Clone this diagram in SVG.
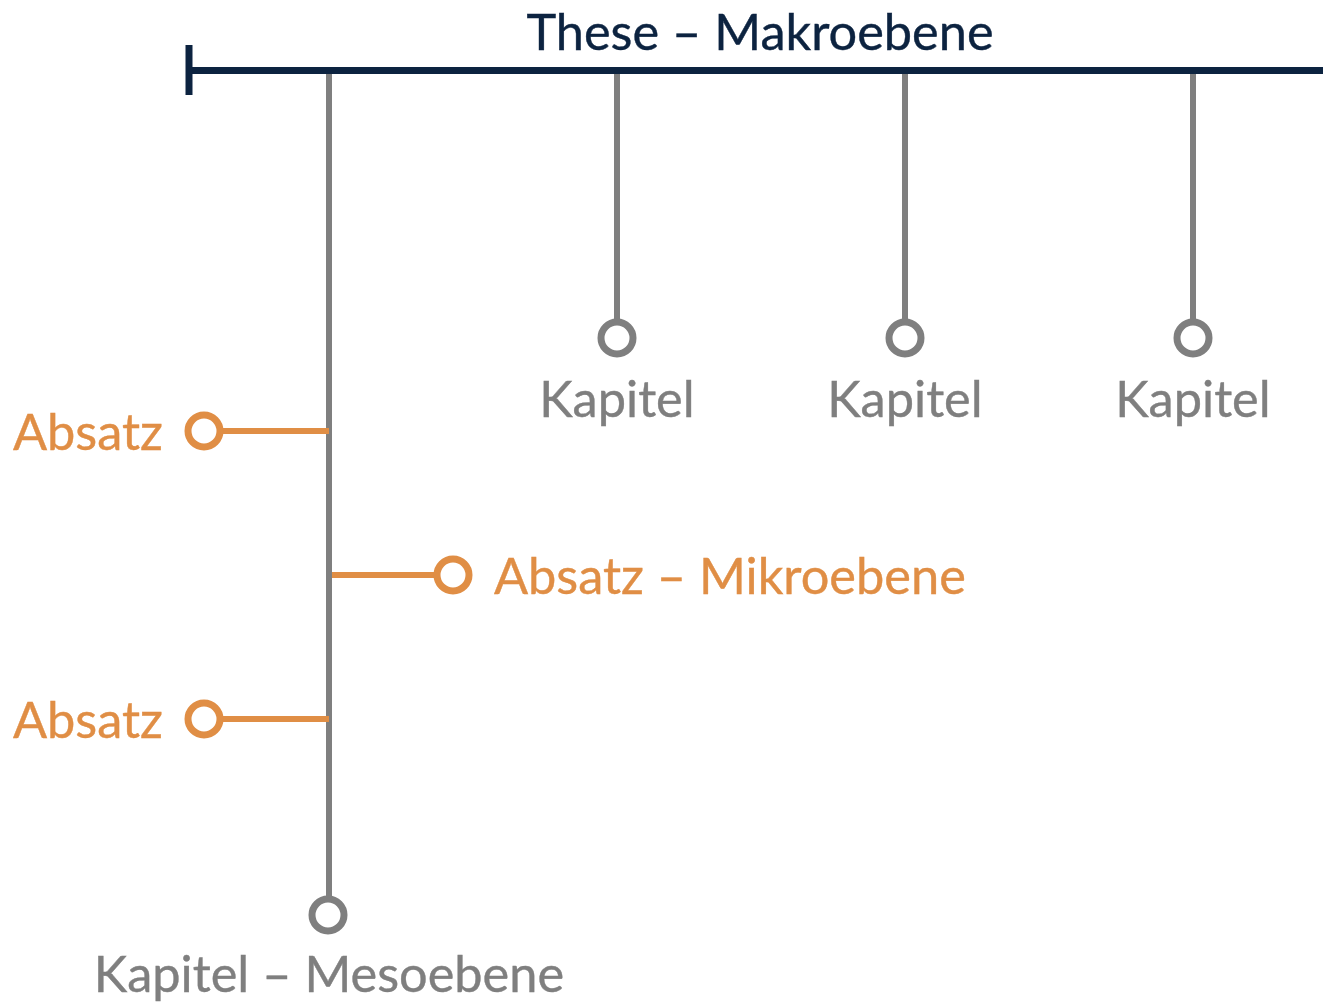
<svg xmlns="http://www.w3.org/2000/svg" width="1323" height="1003" viewBox="0 0 1323 1003">
<style>
.t{font-family:Lato,"Noto Sans",sans-serif;font-size:50.5px}
.navy{fill:#0c2340;stroke:#0c2340;stroke-width:0.4}
.gray{fill:#7f7f7f;stroke:#7f7f7f;stroke-width:0.4}
.orange{fill:#e08e45;stroke:#e08e45;stroke-width:0.4}
.gl{stroke:#7f7f7f;stroke-width:6;fill:none}
.ol{stroke:#e08e45;stroke-width:6;fill:none}
.nl{stroke:#0c2340;stroke-width:7;fill:none}
.gc{stroke:#7f7f7f;stroke-width:7;fill:#fff}
.oc{stroke:#e08e45;stroke-width:7;fill:#fff}
</style>
<g id="connectors">
<line class="gl" x1="329" y1="72" x2="329" y2="898"/>
<line class="gl" x1="617" y1="72" x2="617" y2="322"/>
<line class="gl" x1="905" y1="72" x2="905" y2="322"/>
<line class="gl" x1="1193" y1="72" x2="1193" y2="322"/>
<line class="ol" x1="221" y1="431" x2="329" y2="431"/>
<line class="ol" x1="332" y1="575" x2="436" y2="575"/>
<line class="ol" x1="221" y1="719" x2="329" y2="719"/>
<line class="nl" x1="186" y1="70.5" x2="1323" y2="70.5"/>
<line class="nl" x1="189" y1="45" x2="189" y2="95"/>
</g>
<g id="these"><text class="t navy" x="760" y="50" text-anchor="middle">These – Makroebene</text></g>
<g id="kapitel1"><circle class="gc" cx="617" cy="338" r="16"/><text class="t gray" x="617" y="417" text-anchor="middle">Kapitel</text></g>
<g id="kapitel2"><circle class="gc" cx="905" cy="338" r="16"/><text class="t gray" x="905" y="417" text-anchor="middle">Kapitel</text></g>
<g id="kapitel3"><circle class="gc" cx="1193" cy="338" r="16"/><text class="t gray" x="1193" y="417" text-anchor="middle">Kapitel</text></g>
<g id="absatz1"><circle class="oc" cx="204" cy="431" r="16"/><text class="t orange" x="13" y="450">Absatz</text></g>
<g id="absatz2"><circle class="oc" cx="453" cy="575" r="16"/><text class="t orange" x="494" y="594">Absatz – Mikroebene</text></g>
<g id="absatz3"><circle class="oc" cx="204" cy="719" r="16"/><text class="t orange" x="13" y="738">Absatz</text></g>
<g id="kapitel-meso"><circle class="gc" cx="328" cy="915" r="16"/><text class="t gray" x="329" y="992" text-anchor="middle">Kapitel – Mesoebene</text></g>
</svg>
